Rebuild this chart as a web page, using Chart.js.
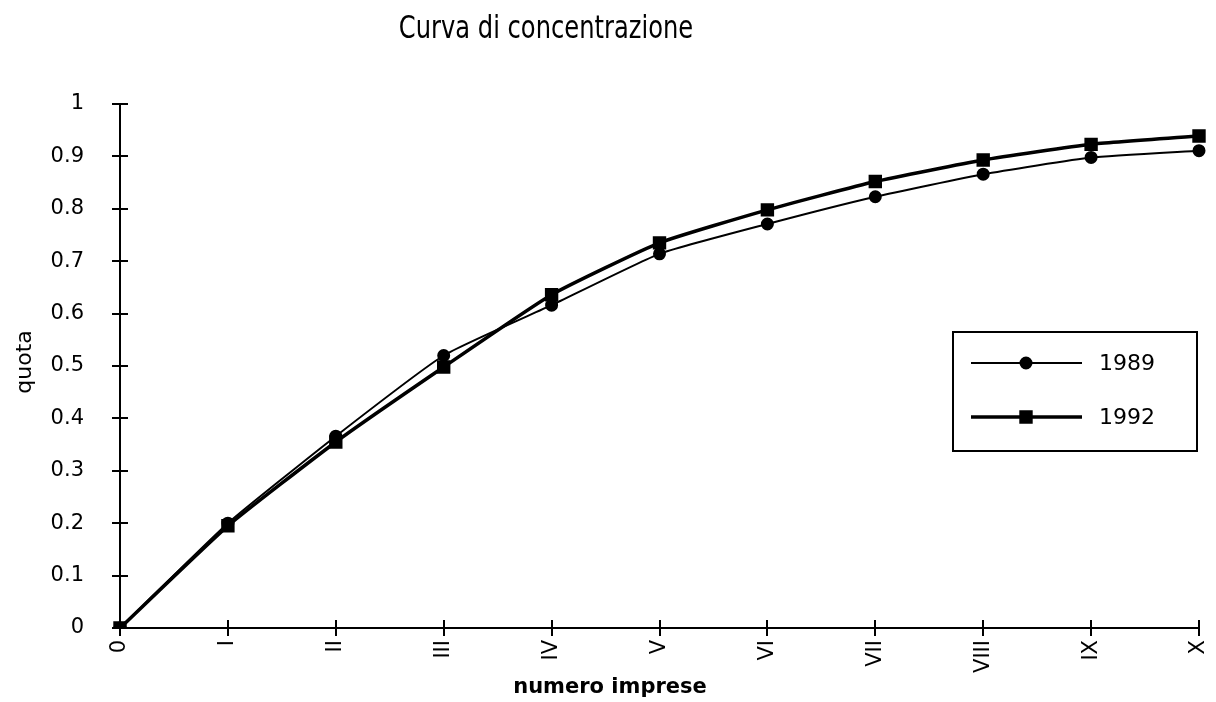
<!DOCTYPE html>
<html lang="it">
<head>
<meta charset="utf-8">
<title>Curva di concentrazione</title>
<script src="https://cdn.jsdelivr.net/npm/chart.js@4.4.1/dist/chart.umd.min.js"></script>
<style>
  html, body { margin: 0; padding: 0; background: #fff; }
  canvas { display: block; }
</style>
</head>
<body>
<canvas id="curva" width="1216" height="702"></canvas>
<script>
// Dati
const numeroImprese = ["0", "I", "II", "III", "IV", "V", "VI", "VII", "VIII", "IX", "X"];
const quota1989 = [0, 0.2, 0.366, 0.52, 0.616, 0.714, 0.771, 0.823, 0.866, 0.898, 0.911];
const quota1992 = [0, 0.195, 0.355, 0.498, 0.636, 0.735, 0.798, 0.852, 0.893, 0.923, 0.939];

const titolo = "Curva di concentrazione";
const titoloX = "numero imprese";
const titoloY = "quota";

const TICK = 8;

// Plugin: titoli, tacche interne agli assi e legenda nel riquadro
const decorazioni = {
  id: "decorazioni",
  afterDraw(chart) {
    const ctx = chart.ctx;
    const xs = chart.scales.x;
    const ys = chart.scales.y;
    const area = chart.chartArea;

    ctx.save();
    ctx.fillStyle = "#000";
    ctx.strokeStyle = "#000";
    ctx.textAlign = "center";
    ctx.textBaseline = "middle";

    // titolo principale (carattere stretto: compresso in orizzontale)
    ctx.save();
    ctx.translate(546, 30);
    ctx.scale(0.84, 1);
    ctx.font = '32px "Liberation Sans Narrow", "DejaVu Sans Condensed", sans-serif';
    ctx.fillText(titolo, 0, 0);
    ctx.restore();

    // titolo asse x
    ctx.font = 'bold 21px "DejaVu Sans", sans-serif';
    ctx.fillText(titoloX, 610, 688);

    // titolo asse y
    ctx.save();
    ctx.translate(25, 362);
    ctx.rotate(-Math.PI / 2);
    ctx.font = '22px "DejaVu Sans", sans-serif';
    ctx.fillText(titoloY, 0, 0);
    ctx.restore();

    // tacche verso l'interno (le tacche esterne sono del grafico)
    ctx.lineWidth = 2;
    ctx.beginPath();
    ys.ticks.forEach((t, i) => {
      const py = Math.round(ys.getPixelForTick(i));
      ctx.moveTo(area.left, py);
      ctx.lineTo(area.left + TICK, py);
    });
    xs.ticks.forEach((t, i) => {
      const px = Math.round(xs.getPixelForTick(i));
      ctx.moveTo(px, area.bottom);
      ctx.lineTo(px, area.bottom - TICK);
    });
    ctx.stroke();

    // legenda
    ctx.lineWidth = 2;
    ctx.strokeRect(953, 332, 244, 119);
    const righe = [363, 417];
    ctx.font = '22px "DejaVu Sans", sans-serif';
    ctx.textAlign = "left";
    chart.data.datasets.forEach((ds, i) => {
      const y = righe[i];
      ctx.lineWidth = ds.borderWidth;
      ctx.beginPath();
      ctx.moveTo(971, y);
      ctx.lineTo(1082, y);
      ctx.stroke();
      Chart.helpers.drawPoint(ctx, {
        pointStyle: ds.pointStyle,
        radius: ds.pointRadius,
        borderWidth: 1,
        rotation: 0
      }, 1026, y);
      ctx.fill();
      ctx.fillText(ds.label, 1099, y + 1);
    });

    ctx.restore();
  }
};

const ctx = document.getElementById("curva").getContext("2d");
new Chart(ctx, {
  type: "line",
  data: {
    labels: numeroImprese,
    datasets: [
      {
        label: "1989",
        data: quota1989,
        borderColor: "#000",
        backgroundColor: "#000",
        borderWidth: 2,
        pointStyle: "circle",
        pointRadius: 5.5,
        tension: 0.15,
        fill: false
      },
      {
        label: "1992",
        data: quota1992,
        borderColor: "#000",
        backgroundColor: "#000",
        borderWidth: 3.5,
        pointStyle: "rect",
        pointRadius: 7,
        tension: 0.15,
        fill: false
      }
    ]
  },
  options: {
    responsive: false,
    animation: false,
    devicePixelRatio: 1,
    layout: { padding: { top: 104, right: 17, bottom: 0, left: 0 } },
    plugins: {
      legend: { display: false },
      title: { display: false },
      tooltip: { enabled: false }
    },
    scales: {
      x: {
        offset: false,
        grid: { display: true, drawOnChartArea: false, tickLength: TICK, color: "#000", lineWidth: 2 },
        border: { display: true, color: "#000", width: 2 },
        ticks: {
          color: "#000",
          font: { family: "DejaVu Sans", size: 21 },
          maxRotation: 90,
          minRotation: 90,
          padding: 4,
          autoSkip: false
        },
        afterFit(scale) {
          scale.height = 74;
          scale.paddingLeft = 0;
          scale.paddingRight = 0;
        }
      },
      y: {
        min: 0,
        max: 1,
        grid: { display: true, drawOnChartArea: false, tickLength: TICK, color: "#000", lineWidth: 2 },
        border: { display: true, color: "#000", width: 2 },
        ticks: {
          stepSize: 0.1,
          color: "#000",
          font: { family: "DejaVu Sans", size: 21 },
          padding: 28,
          callback: (v) => String(+v.toFixed(1))
        },
        afterFit(scale) { scale.width = 120; }
      }
    }
  },
  plugins: [decorazioni]
});
</script>
</body>
</html>
